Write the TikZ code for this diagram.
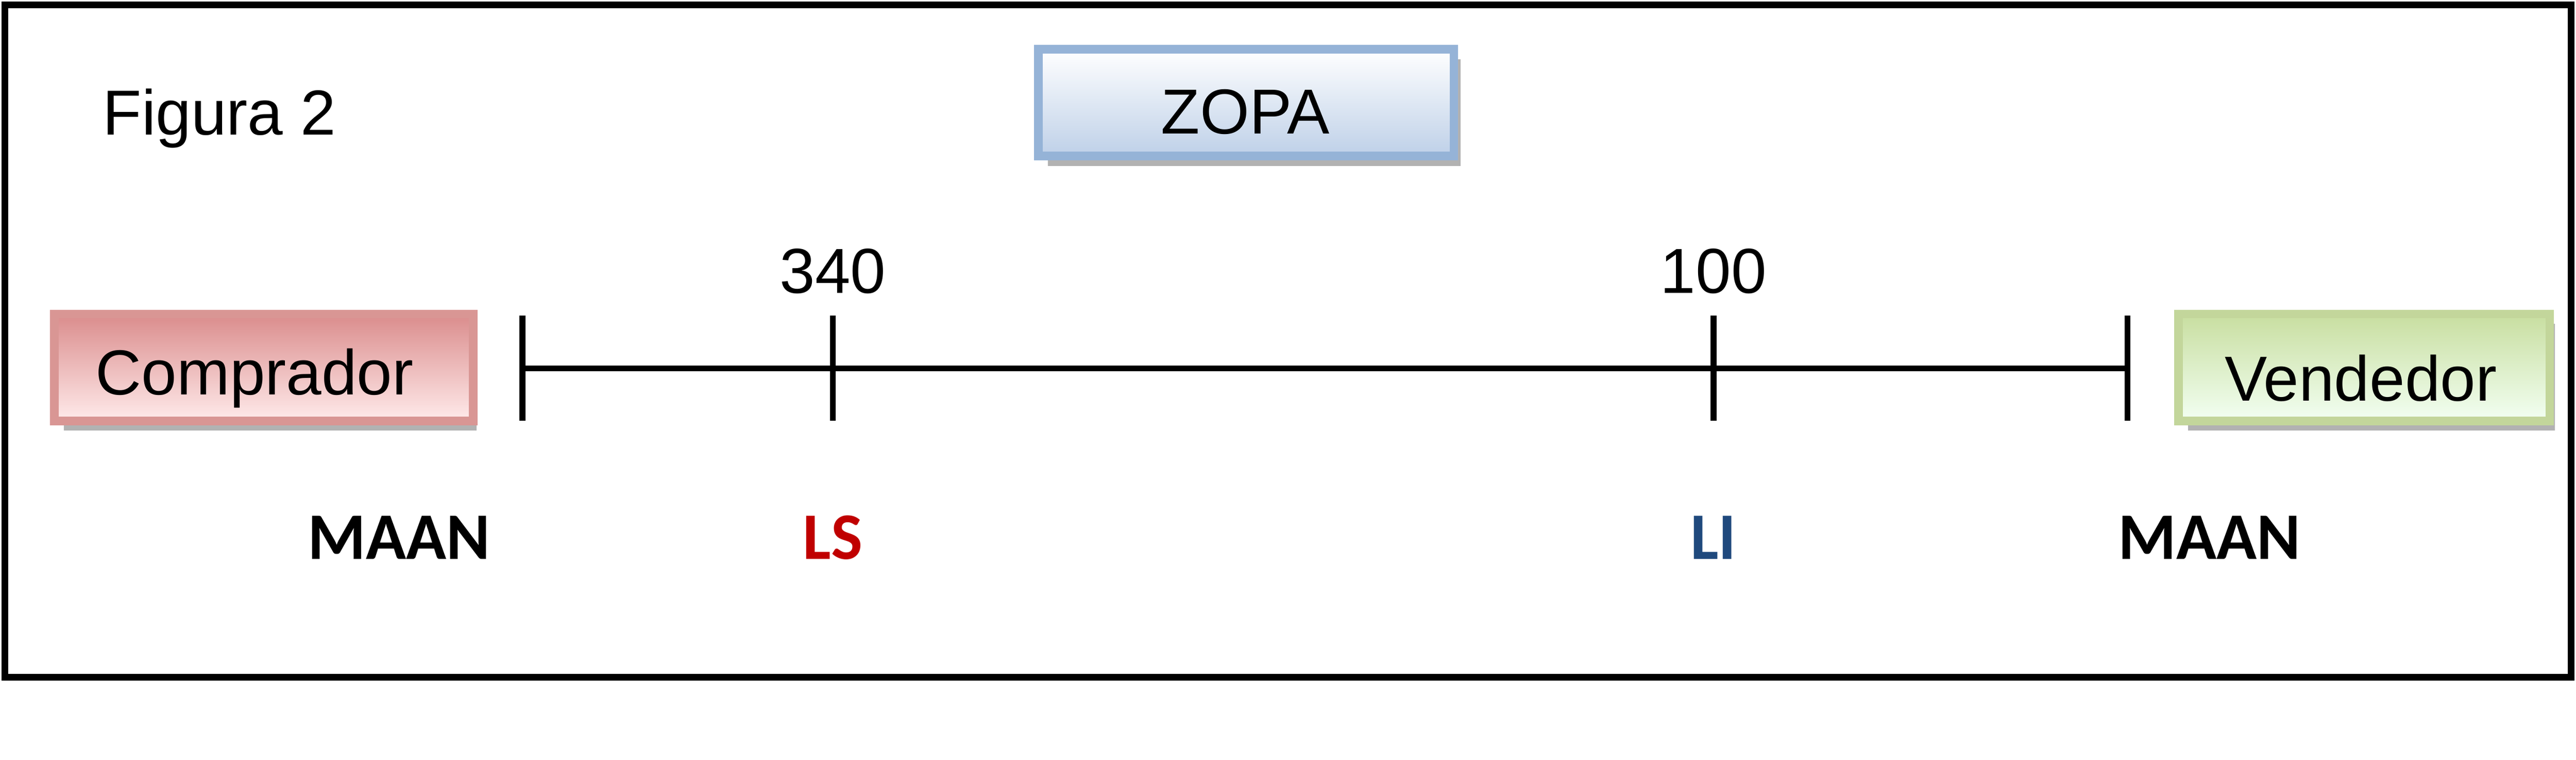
\documentclass[tikz,border=0pt]{standalone}
\usepackage{fontspec}
\setmainfont{Liberation Sans}
\newfontfamily\carl{Carlito}
\definecolor{zb}{RGB}{149,179,215}
\definecolor{zf}{RGB}{190,208,232}
\definecolor{cb}{RGB}{217,150,148}
\definecolor{cf}{RGB}{218,140,140}
\definecolor{vb}{RGB}{195,214,155}
\definecolor{vf}{RGB}{200,222,160}
\begin{document}
\begin{tikzpicture}[x=0.01cm,y=-0.01cm,
 tick/.style={line width=1pt},
 txt/.style={font=\fontsize{11}{13}\selectfont},
 lbl/.style={font=\carl\bfseries\fontsize{11.5}{14}\selectfont}]
\useasboundingbox (0,0) rectangle (1568,462);
\draw[line width=1.2pt] (3,3) rectangle (1565,412);
\node[txt, anchor=base west, inner sep=0] (fig) at (62,82) {Figura 2};
% shadows
\fill[gray!60] (638,36) rectangle (889,101);
\fill[gray!60] (39,197) rectangle (290,262);
\fill[gray!60] (1332,197) rectangle (1555,262);
\shade[top color=white, bottom color=zf, draw=zb, line width=1.5pt] (632,30) rectangle (885,95);
\shade[top color=cf, bottom color=white!92!red, draw=cb, line width=1.5pt] (33,191) rectangle (288,256);
\shade[top color=vf, bottom color=white!95!green, draw=vb, line width=1.5pt] (1326,191) rectangle (1552,256);
\node[txt] (zopa) at (758,68) {ZOPA};
\node[txt] (comp) at (155,230) {Comprador};
\node[txt] (vend) at (1437,230) {Vendedor};
\coordinate (a) at (318,224); \coordinate (d) at (1295,224);
\draw[tick] (a) -- (d);
\foreach \x in {318,507,1043,1295} \draw[tick] (\x,192) -- (\x,256);
\node[txt] (n340) at (507,165) {340};
\node[txt] (n100) at (1043,165) {100};
\node[lbl] (m1) at (243,327) {MAAN};
\node[lbl, text={rgb,255:red,192;green,0;blue,0}] (ls) at (507,327) {LS};
\node[lbl, text={rgb,255:red,31;green,73;blue,125}] (li) at (1043,327) {LI};
\node[lbl] (m2) at (1345,327) {MAAN};
\end{tikzpicture}
\end{document}
